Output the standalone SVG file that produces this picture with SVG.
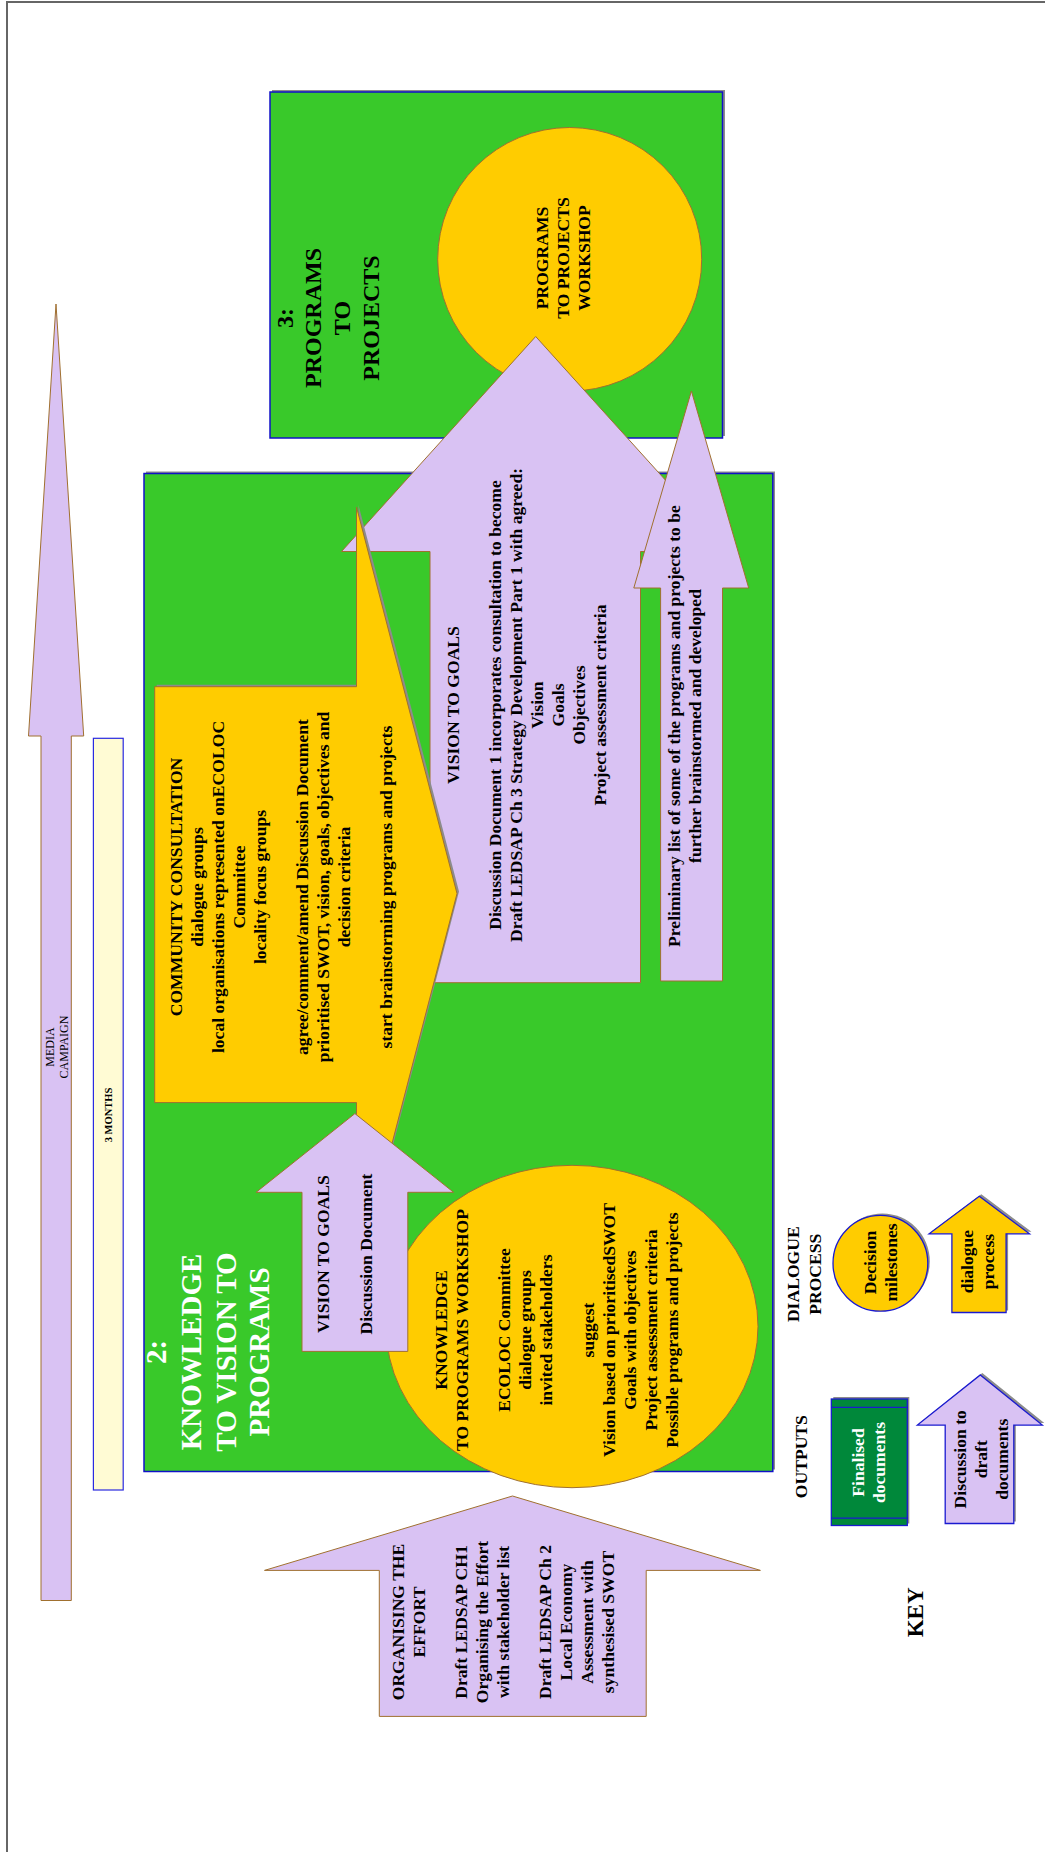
<svg xmlns="http://www.w3.org/2000/svg" width="1045" height="1852" viewBox="0 0 1045 1852">
  <style>
    text { font-family: "Liberation Serif", "Times New Roman", serif; font-weight: bold; text-anchor: middle; fill: #000; }
    .t17 { font-size: 17.6px; }
    .lav { fill: #d9c2f3; stroke: #a0702f; stroke-width: 1; }
    .yel { fill: #ffcc00; stroke: #a0702f; stroke-width: 1; }
    .grn { fill: #39c92a; stroke: #1010c8; stroke-width: 1.5; }
    .shadow { fill: #8c8c8c; stroke: none; }
    .keyline { stroke: #1a1ad0; stroke-width: 1.3; }
  </style>

  <!-- page frame -->
  <rect x="7" y="2" width="1100" height="1900" fill="#fff" stroke="#666" stroke-width="2"/>

  <!-- timeline bars -->
  <g id="media-campaign">
    <polygon class="lav" points="56,304 83.7,736 71.3,736 71.3,1600.5 41,1600.5 41,736 28.5,736"/>
    <text font-size="12" transform="translate(0 1047) rotate(-90)" style="font-weight:normal"><tspan x="0" y="54">MEDIA</tspan><tspan x="0" y="67.6">CAMPAIGN</tspan></text>
  </g>
  <g id="three-months">
    <rect x="93.4" y="738.3" width="29.8" height="751.7" fill="#fffbd4" stroke="#2a2ae0" stroke-width="1.2"/>
    <text font-size="10.5" transform="translate(0 1115) rotate(-90)"><tspan x="0" y="111.8">3 MONTHS</tspan></text>
  </g>

  <!-- stage 3 panel -->
  <g id="stage3">
    <rect class="shadow" x="272" y="90" width="453" height="346"/>
    <rect class="grn" x="270" y="92" width="452.5" height="346"/>
    <text font-size="24" transform="translate(0 318) rotate(-90)"><tspan x="0" y="292.5">3:</tspan><tspan x="0" y="321">PROGRAMS</tspan><tspan x="0" y="349.5">TO</tspan><tspan x="0" y="378.5">PROJECTS</tspan></text>
  </g>
  <g id="programs-workshop">
    <ellipse class="yel" cx="569.7" cy="259.3" rx="132" ry="131.8"/>
    <text class="t17" transform="translate(0 258) rotate(-90)"><tspan x="0" y="547.5">PROGRAMS</tspan><tspan x="0" y="568.6">TO PROJECTS</tspan><tspan x="0" y="590">WORKSHOP</tspan></text>
  </g>

  <!-- stage 2 panel -->
  <g id="stage2">
    <rect class="shadow" x="146" y="471.5" width="629" height="998"/>
    <rect class="grn" x="144" y="473.5" width="628.8" height="998"/>
    <text font-size="29" style="fill:#fff" transform="translate(0 1352) rotate(-90)"><tspan x="0" y="165.5">2:</tspan><tspan x="0" y="200.6">KNOWLEDGE</tspan><tspan x="0" y="235.8">TO VISION TO</tspan><tspan x="0" y="269.3">PROGRAMS</tspan></text>
  </g>

  <g id="connectors">
    <!-- vision to goals : draft part 1 -->
    <g id="vision-goals-draft">
      <polygon class="lav" points="535.7,336.5 729.9,551.5 640.5,551.5 640.5,982.7 430,982.7 430,551.5 341.5,551.5"/>
      <text class="t17" transform="translate(0 705) rotate(-90)"><tspan x="0" y="459.3">VISION TO GOALS</tspan><tspan x="0" y="501.3">Discussion Document 1 incorporates consultation to become</tspan><tspan x="0" y="522.3">Draft LEDSAP Ch 3 Strategy Development Part 1 with agreed:</tspan><tspan x="0" y="543.3">Vision</tspan><tspan x="0" y="564.3">Goals</tspan><tspan x="0" y="585.3">Objectives</tspan><tspan x="0" y="606.3">Project assessment criteria</tspan></text>
    </g>

    <!-- preliminary programme list -->
    <g id="preliminary-list">
      <polygon class="lav" points="691.4,391 748.7,588 722.5,588 722.5,981 660.6,981 660.6,588 633.8,588"/>
      <text class="t17" transform="translate(0 726) rotate(-90)"><tspan x="0" y="679.5">Preliminary list of some of the programs and projects to be</tspan><tspan x="0" y="701">further brainstormed and developed</tspan></text>
    </g>

    <!-- community consultation -->
    <g id="community-consultation">
      <polygon class="shadow" points="156.7,684.7 358.5,684.7 358.5,505 459,891.6 358.5,1278 358.5,1100.6 156.7,1100.6"/>
      <polygon class="yel" points="154.7,686.7 356.5,686.7 356.5,507 457,893.6 356.5,1280 356.5,1102.6 154.7,1102.6"/>
      <text class="t17" transform="translate(0 887) rotate(-90)"><tspan x="0" y="181.5">COMMUNITY CONSULTATION</tspan><tspan x="0" y="202.5">dialogue groups</tspan><tspan x="0" y="223.5">local organisations represented onECOLOC</tspan><tspan x="0" y="244.5">Committee</tspan><tspan x="0" y="265.5">locality focus groups</tspan><tspan x="0" y="307.5">agree/comment/amend Discussion Document</tspan><tspan x="0" y="328.5">prioritised SWOT, vision, goals, objectives and</tspan><tspan x="0" y="349.5">decision criteria</tspan><tspan x="0" y="391.5">start brainstorming programs and projects</tspan></text>
    </g>
  </g>

  <!-- knowledge to programs workshop -->
  <g id="knowledge-workshop">
    <ellipse class="yel" cx="572" cy="1326.5" rx="186" ry="161.2"/>
    <text class="t17" transform="translate(0 1330) rotate(-90)"><tspan x="0" y="446.7">KNOWLEDGE</tspan><tspan x="0" y="467.7">TO PROGRAMS WORKSHOP</tspan><tspan x="0" y="509.7">ECOLOC Committee</tspan><tspan x="0" y="530.7">dialogue groups</tspan><tspan x="0" y="551.7">invited stakeholders</tspan><tspan x="0" y="593.7">suggest</tspan><tspan x="0" y="614.7">Vision based on prioritisedSWOT</tspan><tspan x="0" y="635.7">Goals with objectives</tspan><tspan x="0" y="656.7">Project assessment criteria</tspan><tspan x="0" y="677.7">Possible programs and projects</tspan></text>
  </g>

  <g id="connectors-lower">
    <!-- vision to goals : discussion document -->
    <g id="vision-goals-discussion">
      <polygon class="lav" points="354.9,1113.6 453.6,1192.3 407.8,1192.3 407.8,1351.4 302,1351.4 302,1192.3 256.1,1192.3"/>
      <text class="t17" transform="translate(0 1254) rotate(-90)"><tspan x="0" y="328.7">VISION TO GOALS</tspan><tspan x="0" y="371.7">Discussion Document</tspan></text>
    </g>

    <!-- organising the effort -->
    <g id="organising-effort">
      <polygon class="lav" points="512.5,1496 760.4,1570.4 646.2,1570.4 646.2,1716.4 379.3,1716.4 379.3,1570.4 264.5,1570.4"/>
      <text class="t17" transform="translate(0 1622) rotate(-90)"><tspan x="0" y="404">ORGANISING THE</tspan><tspan x="0" y="425">EFFORT</tspan><tspan x="0" y="467">Draft LEDSAP CH1</tspan><tspan x="0" y="488">Organising the Effort</tspan><tspan x="0" y="509">with stakeholder list</tspan><tspan x="0" y="551">Draft LEDSAP Ch 2</tspan><tspan x="0" y="572">Local Economy</tspan><tspan x="0" y="593">Assessment with</tspan><tspan x="0" y="614">synthesised SWOT</tspan></text>
    </g>
  </g>

  <!-- key -->
  <g id="key">
    <text class="t17" transform="translate(0 1456.7) rotate(-90)"><tspan x="0" y="806.9">OUTPUTS</tspan></text>
    <text class="t17" transform="translate(0 1274.2) rotate(-90)"><tspan x="0" y="799.2">DIALOGUE</tspan><tspan x="0" y="820.7">PROCESS</tspan></text>
    <text font-size="23" transform="translate(0 1612.4) rotate(-90)"><tspan x="0" y="922.6">KEY</tspan></text>
  </g>
  <g id="key-decision">
    <ellipse class="shadow" cx="882.4" cy="1261.3" rx="47.4" ry="47.9"/>
    <ellipse class="yel keyline" cx="880.4" cy="1263.3" rx="47.4" ry="47.9"/>
    <text class="t17" transform="translate(0 1262.5) rotate(-90)"><tspan x="0" y="875.5">Decision</tspan><tspan x="0" y="897">milestones</tspan></text>
  </g>
  <g id="key-dialogue">
    <polygon class="shadow" points="981.3,1194.3 1031.5,1231.8 1008.1,1231.8 1008.1,1310.5 953.9,1310.5 953.9,1231.8 931.1,1231.8"/>
    <polygon class="yel keyline" points="979.3,1196.3 1029.5,1233.8 1006.1,1233.8 1006.1,1312.5 951.9,1312.5 951.9,1233.8 929.1,1233.8"/>
    <text class="t17" transform="translate(0 1261.6) rotate(-90)"><tspan x="0" y="973">dialogue</tspan><tspan x="0" y="994">process</tspan></text>
  </g>
  <g id="key-finalised">
    <rect class="shadow" x="833.3" y="1397" width="76" height="126.5"/>
    <rect x="831.3" y="1399" width="76" height="126.5" fill="#00883a" stroke="#1a1ad0" stroke-width="1.3"/>
    <line x1="831.3" y1="1407.3" x2="907.3" y2="1407.3" stroke="#1a1ad0" stroke-width="1.2"/>
    <line x1="831.3" y1="1518.2" x2="907.3" y2="1518.2" stroke="#1a1ad0" stroke-width="1.2"/>
    <text class="t17" style="fill:#fff" transform="translate(0 1462.5) rotate(-90)"><tspan x="0" y="863.5">Finalised</tspan><tspan x="0" y="884.5">documents</tspan></text>
  </g>
  <g id="key-discussion">
    <polygon class="shadow" points="982.3,1372.9 1044.3,1423.1 1015.8,1423.1 1015.8,1521.5 947.2,1521.5 947.2,1423.1 919.4,1423.1"/>
    <polygon class="lav keyline" points="980.3,1374.9 1042.3,1425.1 1013.8,1425.1 1013.8,1523.5 945.2,1523.5 945.2,1425.1 917.4,1425.1"/>
    <text class="t17" transform="translate(0 1459.3) rotate(-90)"><tspan x="0" y="965.9">Discussion to</tspan><tspan x="0" y="987">draft</tspan><tspan x="0" y="1008">documents</tspan></text>
  </g>
</svg>
